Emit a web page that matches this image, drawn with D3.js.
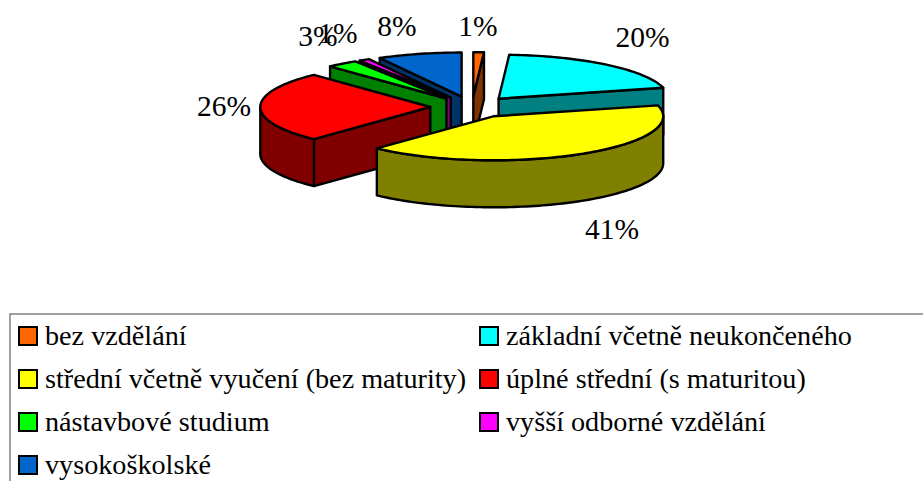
<html>
<head>
<meta charset="utf-8">
<style type="text/css">
    html, body {margin: 0; padding: 0; background: #fff; overflow: hidden}
    text {font-family: "Liberation Serif", serif; fill: #000}
</style>
</head>
<body>
<script src="https://d3js.org/d3.v7.min.js"></script>
<script>
    var categories = ["bez vzdělání", "základní včetně neukončeného", "střední včetně vyučení (bez maturity)",
                      "úplné střední (s maturitou)", "nástavbové studium", "vyšší odborné vzdělání", "vysokoškolské"];
    var values = [1, 20, 41, 26, 3, 1, 8];
    var topColors = ["#FF6600", "#00FFFF", "#FFFF00", "#FF0000", "#00FF00", "#FF00FF", "#0066CC"];
    var sideColors = ["#803300", "#008080", "#808000", "#800000", "#008000", "#800080", "#003366"];

    var width = 923, height = 481;
    var cx = 472, cy = 107;      //centre of the pie before slices are pulled out
    var rx = 170, ry = 44;       //ellipse of the tilted pie
    var explode = 41.7;          //how far each slice is pulled out
    var tilt = ry / rx;
    var depth = 47;

    //back to front, so the nearer slices cover the others
    var drawOrder = [6, 5, 4, 0, 1, 3, 2];
    //label shift from the default spot beside its slice
    var labelShift = [[-1, -15], [29, -19], [27, 65], [-26, -1], [-18, -19], [-21, -17], [-20, -17]];

    var svg = d3.select("body").append("svg").attr("width", width).attr("height", height);

    var slices = d3.pie().sort(null)(values);
    var line = d3.line();

    function point(c, r, a, dz) {
        return [c[0] + r * Math.sin(a), c[1] - r * tilt * Math.cos(a) + (dz || 0)];
    }
    function arcPoints(c, a0, a1, dz) {
        var n = Math.max(2, Math.ceil((a1 - a0) * 40));
        return d3.range(n + 1).map(function(i) { return point(c, rx, a0 + (a1 - a0) * i / n, dz); });
    }
    function face(c, a) {
        return line([c, point(c, rx, a), point(c, rx, a, depth), [c[0], c[1] + depth]]) + "Z";
    }

    drawOrder.forEach(function(i) {
        var d = slices[i];
        var mid = (d.startAngle + d.endAngle) / 2;
        var c = point([cx, cy], explode, mid);
        var g = svg.append("g").attr("stroke", "#000").attr("stroke-width", 2.4).attr("stroke-linejoin", "round");

        //cut faces that look towards the viewer
        if (Math.sin(d.startAngle) < 0) g.append("path").attr("d", face(c, d.startAngle)).attr("fill", sideColors[i]);
        if (Math.sin(d.endAngle) > 0) g.append("path").attr("d", face(c, d.endAngle)).attr("fill", sideColors[i]);

        //outer wall, only the front half of the ellipse
        var w0 = Math.max(d.startAngle, Math.PI / 2), w1 = Math.min(d.endAngle, Math.PI * 1.5);
        if (w1 > w0) {
            var wall = arcPoints(c, w0, w1, 0).concat(arcPoints(c, w0, w1, depth).reverse());
            g.append("path").attr("d", line(wall) + "Z").attr("fill", sideColors[i]);
        }

        //top
        g.append("path")
            .attr("d", line([c].concat(arcPoints(c, d.startAngle, d.endAngle, 0))) + "Z")
            .attr("fill", topColors[i]);
    });

    svg.selectAll("text.pct")
        .data(slices)
        .enter()
        .append("text")
        .attr("class", "pct")
        .attr("text-anchor", "middle")
        .attr("font-size", "29.5px")
        .attr("dy", "0.33em")
        .attr("x", function(d, i) {
            var mid = (d.startAngle + d.endAngle) / 2;
            return cx + 222 * Math.sin(mid) + labelShift[i][0];
        })
        .attr("y", function(d, i) {
            var mid = (d.startAngle + d.endAngle) / 2;
            return cy - 66 * Math.cos(mid) + labelShift[i][1];
        })
        .text(function(d) { return d.value + "%"; });

    //legend, its frame runs off the right and bottom of the picture
    svg.append("rect").attr("x", 10).attr("y", 314).attr("width", 930).attr("height", 190)
        .attr("fill", "none").attr("stroke", "#808080").attr("stroke-width", 1.5);

    var legendX = d3.scalePoint().domain([0, 1]).range([18, 479]);
    var legendY = d3.scaleLinear().domain([0, 3]).range([326, 455]);

    var items = svg.selectAll("g.item")
        .data(categories)
        .enter()
        .append("g")
        .attr("class", "item")
        .attr("transform", function(d, i) {
            return "translate(" + legendX(i % 2) + "," + legendY(Math.floor(i / 2)) + ")";
        });
    items.append("rect")
        .attr("x", 1).attr("y", 1).attr("width", 18).attr("height", 18)
        .attr("stroke", "#000").attr("stroke-width", 2)
        .attr("fill", function(d, i) { return topColors[i]; });
    items.append("text")
        .attr("x", 27).attr("y", 19)
        .attr("font-size", "28.2px")
        .text(function(d) { return d; });
</script>
</body>
</html>
